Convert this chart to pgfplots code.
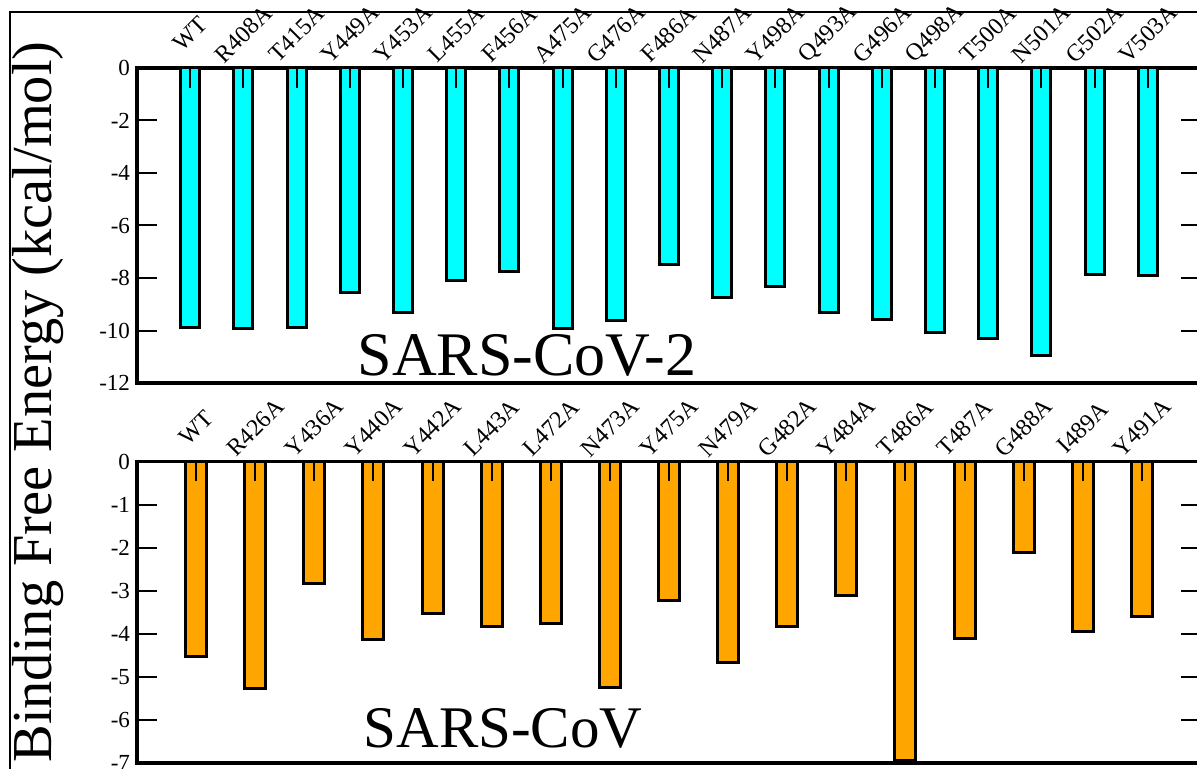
\documentclass[border=0pt]{standalone}
\usepackage{fontspec}
\setmainfont{Liberation Serif}
\usepackage{pgfplots}
\pgfplotsset{compat=1.18}
\definecolor{barcyan}{RGB}{0,255,255}
\definecolor{barorange}{RGB}{255,165,0}
\begin{document}
\begin{tikzpicture}
\pgfplotsset{
  myax/.style={
    scale only axis, width=532pt, xmin=0,
    axis line style={line width=1.75pt},
    tick align=inside, major tick length=10pt,
    ytick style={line width=1pt, black},
    xtick style={draw=none},
    xticklabel pos=upper,
    xticklabel style={font=\fontsize{12}{14}\selectfont, yshift=17pt, rotate=45, anchor=center},
    yticklabel style={font=\fontsize{11.5}{13}\selectfont},
    /pgf/number format/assume math mode=true,
    clip=false,
  }
}
\begin{axis}[myax, at={(68.5pt,-34pt)}, anchor=north west, height=157.5pt,
  xmax=20, ymin=-12, ymax=0, ytick={0,-2,-4,-6,-8,-10,-12},
  xtick={1,...,19},
  xticklabels={WT,R408A,T415A,Y449A,Y453A,L455A,F456A,A475A,G476A,F486A,N487A,Y498A,Q493A,G496A,Q498A,T500A,N501A,G502A,V503A}]
\addplot[ybar, bar width=9.5pt, fill=barcyan, draw=black, line width=1.5pt] coordinates {
(1,-9.90) (2,-9.92) (3,-9.90) (4,-8.57) (5,-9.33) (6,-8.08) (7,-7.77) (8,-9.92) (9,-9.60) (10,-7.47)
(11,-8.76) (12,-8.34) (13,-9.33) (14,-9.58) (15,-10.06) (16,-10.29) (17,-10.95) (18,-7.85) (19,-7.92)};
\addplot[ycomb, line width=1pt, black, no marks] coordinates {
(1,-0.76) (2,-0.76) (3,-0.76) (4,-0.76) (5,-0.76) (6,-0.76) (7,-0.76) (8,-0.76) (9,-0.76) (10,-0.76)
(11,-0.76) (12,-0.76) (13,-0.76) (14,-0.76) (15,-0.76) (16,-0.76) (17,-0.76) (18,-0.76) (19,-0.76)};
\end{axis}
\begin{axis}[myax, at={(68.5pt,-230.75pt)}, anchor=north west, height=150.75pt,
  xmax=18, ymin=-7, ymax=0, ytick={0,-1,-2,-3,-4,-5,-6,-7},
  xtick={1,...,17},
  xticklabels={WT,R426A,Y436A,Y440A,Y442A,L443A,L472A,N473A,Y475A,N479A,G482A,Y484A,T486A,T487A,G488A,I489A,Y491A}]
\addplot[ybar, bar width=10.5pt, fill=barorange, draw=black, line width=1.5pt] coordinates {
(1,-4.52) (2,-5.28) (3,-2.84) (4,-4.14) (5,-3.52) (6,-3.84) (7,-3.77) (8,-5.24) (9,-3.22)
(10,-4.66) (11,-3.84) (12,-3.12) (13,-6.94) (14,-4.10) (15,-2.12) (16,-3.94) (17,-3.59)};
\addplot[ycomb, line width=1pt, black, no marks] coordinates {
(1,-0.46) (2,-0.46) (3,-0.46) (4,-0.46) (5,-0.46) (6,-0.46) (7,-0.46) (8,-0.46) (9,-0.46)
(10,-0.46) (11,-0.46) (12,-0.46) (13,-0.46) (14,-0.46) (15,-0.46) (16,-0.46) (17,-0.46)};
\end{axis}
\node[anchor=base, font=\fontsize{31}{36}\selectfont] at (263.5pt,-188pt) {SARS-CoV-2};
\node[anchor=base, font=\fontsize{29.5}{34}\selectfont] at (251.5pt,-373.5pt) {SARS-CoV};
\node[rotate=90, anchor=north, inner sep=0pt, font=\fontsize{28.2}{33}\selectfont] at (5.8pt,-201pt) {Binding Free Energy (kcal/mol)};
\draw[line width=1pt] (5pt,-420pt) -- (5pt,-6pt) -- (620pt,-6pt);
\pgfresetboundingbox
\path[use as bounding box] (0pt,0pt) rectangle (598.5pt,-384.5pt);
\end{tikzpicture}
\end{document}
